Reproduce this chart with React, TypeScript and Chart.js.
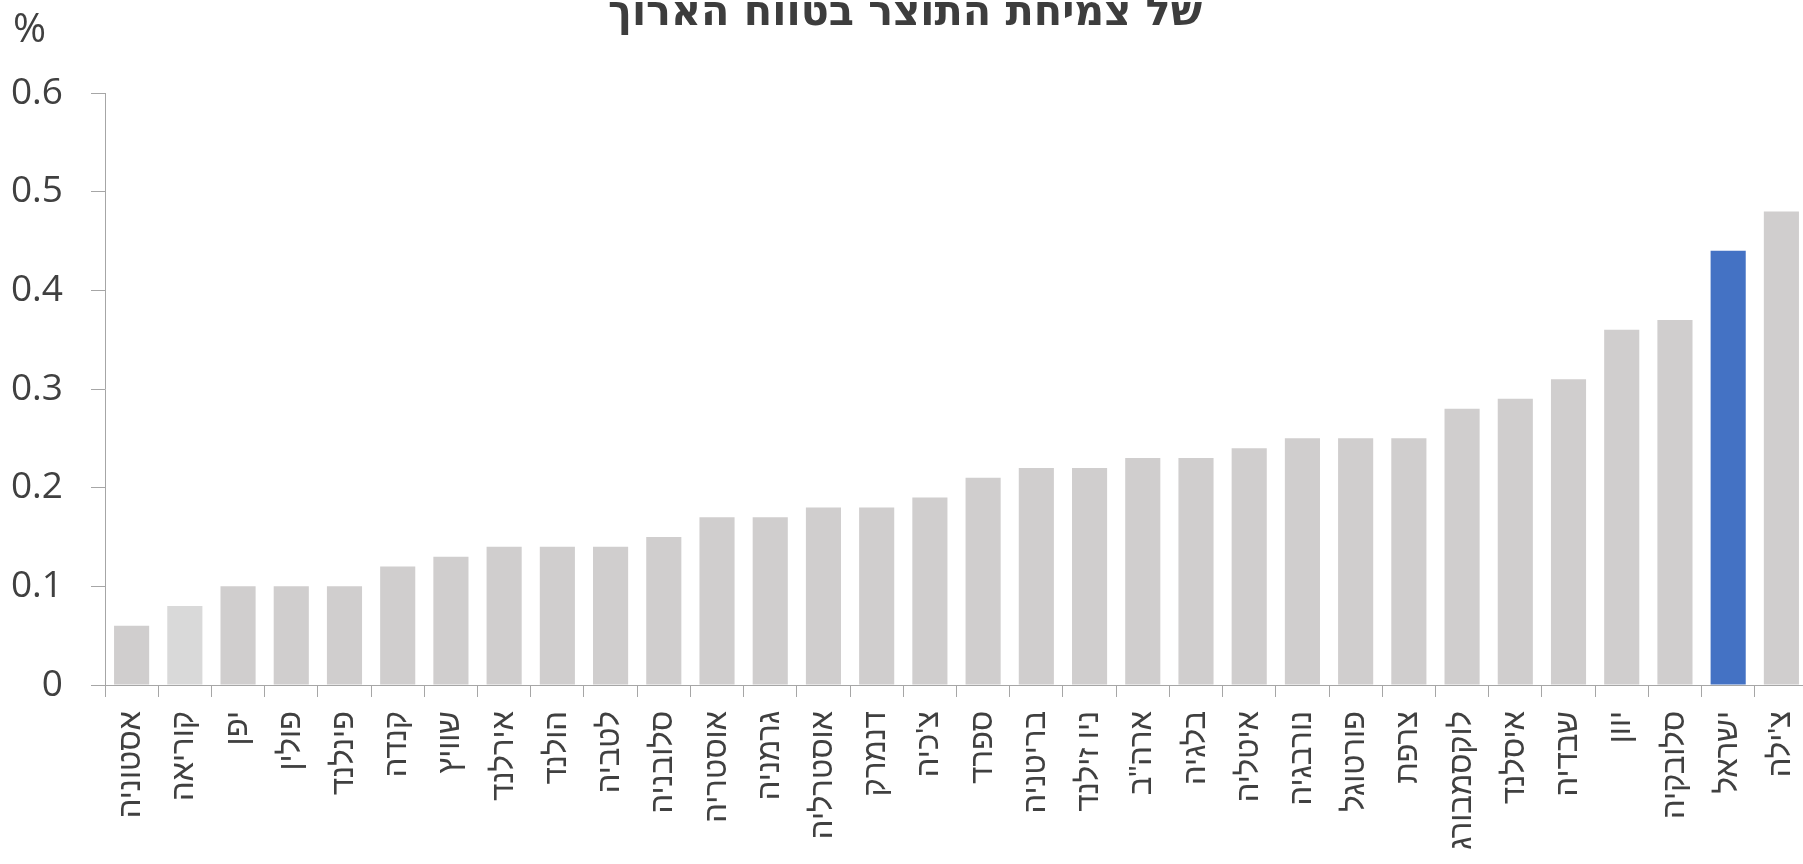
import React, { useEffect, useRef } from "react";
import { Chart, registerables } from "chart.js";

Chart.register(...registerables);

const countries: string[] = [
  "אסטוניה", "קוריאה", "יפן", "פולין", "פינלנד", "קנדה", "שוויץ", "אירלנד",
  "הולנד", "לטביה", "סלובניה", "אוסטריה", "גרמניה", "אוסטרליה", "דנמרק", "צ'כיה",
  "ספרד", "בריטניה", "ניו זילנד", "ארה\"ב", "בלגיה", "איטליה", "נורבגיה", "פורטוגל",
  "צרפת", "לוקסמבורג", "איסלנד", "שבדיה", "יוון", "סלובקיה", "ישראל", "צ'ילה",
];

const values: number[] = [
  0.06, 0.08, 0.10, 0.10, 0.10, 0.12, 0.13, 0.14,
  0.14, 0.14, 0.15, 0.17, 0.17, 0.18, 0.18, 0.19,
  0.21, 0.22, 0.22, 0.23, 0.23, 0.24, 0.25, 0.25,
  0.25, 0.28, 0.29, 0.31, 0.36, 0.37, 0.44, 0.48,
];

const highlighted = "ישראל";
const lighter = "קוריאה";

const titleText = "של צמיחת התוצר בטווח הארוך";
const unitText = "%";

const yMin = 0;
const yMax = 0.6;
const yStep = 0.1;

const CANVAS_W = 1808;
const CANVAS_H = 900;

const textPlugin = {
  id: "extraTexts",
  afterDraw(chart: any) {
    const ctx = chart.ctx as CanvasRenderingContext2D;
    ctx.save();
    ctx.fillStyle = "#3d3d3d";
    ctx.font = 'bold 42px "DejaVu Sans Condensed", "DejaVu Sans", sans-serif';
    ctx.textAlign = "center";
    ctx.textBaseline = "alphabetic";
    (ctx as any).direction = "rtl";
    const w = ctx.measureText(titleText).width;
    const sx = 594 / w;
    ctx.translate(905, 25);
    ctx.scale(sx, 1);
    ctx.fillText(titleText, 0, 0);
    ctx.restore();

    ctx.save();
    ctx.fillStyle = "#404040";
    ctx.font = '40px "Open Sans", sans-serif';
    ctx.textAlign = "left";
    ctx.textBaseline = "alphabetic";
    ctx.fillText(unitText, 13, 42);
    ctx.restore();
  },
};

export default function App() {
  const ref = useRef<HTMLCanvasElement | null>(null);

  useEffect(() => {
    if (!ref.current) return;
    const chart = new Chart(ref.current, {
      type: "bar",
      data: {
        labels: countries,
        datasets: [
          {
            data: values,
            backgroundColor: (c: any) => {
              const name = countries[c.dataIndex];
              if (name === highlighted) return "#4472C4";
              if (name === lighter) return "#D9D9D9";
              return "#D0CECE";
            },
            borderWidth: 0,
            barPercentage: 0.66,
            categoryPercentage: 1.0,
          },
        ],
      },
      options: {
        responsive: false,
        animation: false,
        layout: { padding: { top: 93, left: 0, right: 0, bottom: 0 } },
        plugins: {
          legend: { display: false },
          tooltip: { enabled: false },
          title: { display: false },
        },
        scales: {
          x: {
            type: "category",
            offset: true,
            grid: {
              display: true,
              drawOnChartArea: false,
              drawTicks: true,
              tickLength: 12,
              color: "#A6A6A6",
              offset: true,
            },
            border: { display: true, color: "#A6A6A6", width: 1 },
            ticks: {
              autoSkip: false,
              minRotation: 90,
              maxRotation: 90,
              padding: 14,
              color: "#404040",
              font: { family: '"Liberation Sans", "DejaVu Sans", sans-serif', size: 31 },
            },
            afterFit: (scale: any) => {
              scale.height = CANVAS_H - 685;
              scale.paddingLeft = 0;
              scale.paddingRight = 0;
            },
          },
          y: {
            min: yMin,
            max: yMax,
            grid: {
              display: true,
              drawOnChartArea: false,
              drawTicks: true,
              tickLength: 14,
              color: "#A6A6A6",
            },
            border: { display: true, color: "#A6A6A6", width: 1 },
            ticks: {
              stepSize: yStep,
              padding: 28,
              color: "#404040",
              font: { family: '"Open Sans", sans-serif', size: 37 },
              callback: (v: any) => {
                const n = Number(v);
                return n === 0 ? "0" : n.toFixed(1);
              },
            },
            afterFit: (scale: any) => {
              scale.width = 105;
            },
          },
        },
      },
      plugins: [textPlugin],
    });
    return () => chart.destroy();
  }, []);

  return (
    <div
      style={{
        position: "fixed",
        left: 0,
        top: 0,
        width: 1803,
        height: 864,
        overflow: "hidden",
        background: "#ffffff",
      }}
    >
      <canvas
        ref={ref}
        width={CANVAS_W}
        height={CANVAS_H}
        style={{ display: "block", width: CANVAS_W, height: CANVAS_H }}
      />
    </div>
  );
}
